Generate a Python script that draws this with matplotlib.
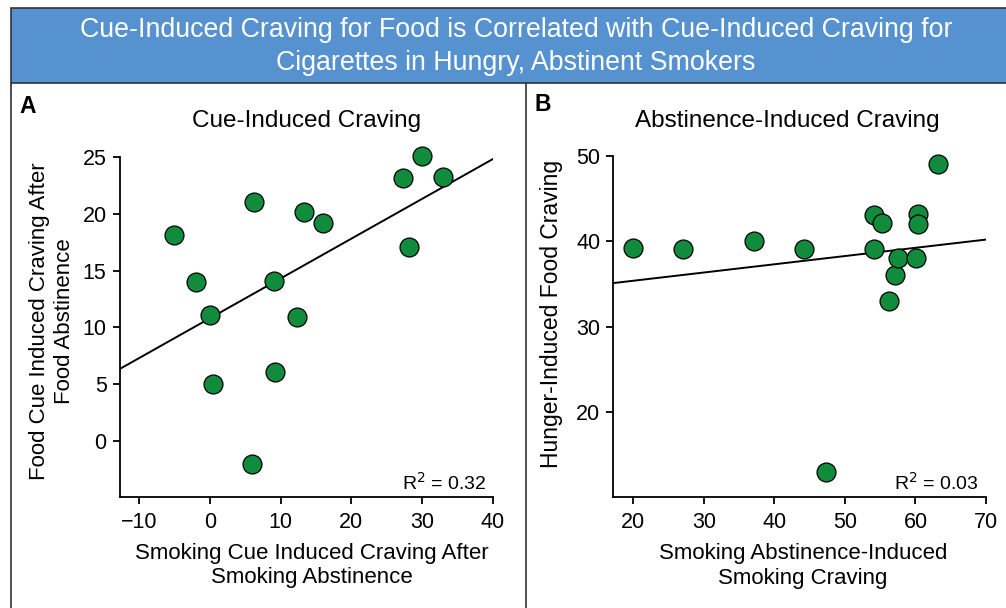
import matplotlib
matplotlib.use("Agg")
import matplotlib.pyplot as plt
from matplotlib.patches import Rectangle
from matplotlib.lines import Line2D

plt.rcParams['font.family'] = ['Liberation Sans', 'DejaVu Sans']

# panel A: cue-induced craving
cue_smoking = [-5, -2, 0, 0.4, 6.2, 6, 9, 9.2, 12.3, 13.3, 16, 27.3, 28.2, 30, 33]
cue_food = [18.1, 14, 11.1, 5, 21, -2, 14.1, 6.1, 10.9, 20.1, 19.2, 23.1, 17.1, 25.1, 23.2]
fit_a = (0.35, 10.8)  # slope, intercept
r2_a = "0.32"

# panel B: abstinence-induced craving
abst_smoking = [20, 27, 37.1, 44.2, 47.3, 54.1, 54.1, 55.2, 56.2, 57.1, 57.5, 60.1, 60.3, 60.3, 63.2]
abst_food = [39.2, 39.1, 40, 39.1, 13, 39.1, 43.05, 42.1, 33, 36.05, 38.1, 38, 43.2, 42, 49.1]
fit_b = (0.0965, 33.45)
r2_b = "0.03"

green = "#118C3D"
W, H = 1006, 608
narrow = ['Liberation Sans Narrow', 'Liberation Sans']

fig = plt.figure(figsize=(W / 100, H / 100), dpi=100)

# header box + panel frame
fig.patches.append(Rectangle((10.5 / W, 1 - 83 / H), (W - 10) / W, 75 / H, transform=fig.transFigure,
                             facecolor="#5592CF", edgecolor="#333333", lw=1.2))
fig.lines.append(Line2D([10.5 / W, 10.5 / W], [0, 1 - 83 / H], transform=fig.transFigure, color="#333333", lw=1.2))
fig.lines.append(Line2D([526 / W, 526 / W], [0, 1 - 83 / H], transform=fig.transFigure, color="#333333", lw=1.2))
fig.text(516 / W, 1 - 37 / H, "Cue-Induced Craving for Food is Correlated with Cue-Induced Craving for",
         ha="center", va="baseline", color="white", fontsize=19.3, family=narrow)
fig.text(516 / W, 1 - 70 / H, "Cigarettes in Hungry, Abstinent Smokers",
         ha="center", va="baseline", color="white", fontsize=19.3, family=narrow)

fig.text(19 / W, 1 - 113 / H, "A", fontsize=16.5, fontweight="bold", va="baseline")
fig.text(534 / W, 1 - 111 / H, "B", fontsize=16.5, fontweight="bold", va="baseline")

ax1 = fig.add_axes([119.5 / W, 1 - 497 / H, 373.5 / W, 340.3 / H])
ax2 = fig.add_axes([613.3 / W, 1 - 497.3 / H, 372.7 / W, 341.3 / H])


def style(ax):
    ax.spines['top'].set_visible(False)
    ax.spines['right'].set_visible(False)
    for s in ['left', 'bottom']:
        ax.spines[s].set_linewidth(1.3)
    ax.tick_params(direction="out", length=4.8, width=1.3, labelsize=15.5)
    ax.tick_params(axis="y", pad=4.5)
    ax.tick_params(axis="x", pad=6)


# A
ax1.scatter(cue_smoking, cue_food, s=185, color=green, edgecolor="black", linewidth=0.9, zorder=3, clip_on=False)
ax1.axline((0, fit_a[1]), slope=fit_a[0], color="black", lw=1.4, zorder=2)
ax1.set_xlim(-12.75, 40)
ax1.set_ylim(-4.9, 25)
ax1.set_xticks([-10, 0, 10, 20, 30, 40])
ax1.set_yticks([0, 5, 10, 15, 20, 25])
style(ax1)
ax1.set_xlabel("Smoking Cue Induced Craving After\nSmoking Abstinence", fontsize=16, linespacing=1.2)
ax1.xaxis.set_label_coords(0.515, -0.135)
ax1.set_ylabel("Food Cue Induced Craving After\nFood Abstinence", fontsize=16, linespacing=1.2)
ax1.yaxis.set_label_coords(-0.12, 0.517)
ax1.text(0.501, 1.088, "Cue-Induced Craving", transform=ax1.transAxes, ha="center", va="baseline", fontsize=17.5)
ax1.text(0.983, 0.022, "R$^2$ = " + r2_a, transform=ax1.transAxes, ha="right", va="baseline", fontsize=14)

# B
ax2.scatter(abst_smoking, abst_food, s=185, color=green, edgecolor="black", linewidth=0.9, zorder=3, clip_on=False)
ax2.axline((0, fit_b[1]), slope=fit_b[0], color="black", lw=1.4, zorder=2)
ax2.set_xlim(17.16, 70)
ax2.set_ylim(10, 50)
ax2.set_xticks([20, 30, 40, 50, 60, 70])
ax2.set_yticks([20, 30, 40, 50])
style(ax2)
ax2.set_xlabel("Smoking Abstinence-Induced\nSmoking Craving", fontsize=16, linespacing=1.2)
ax2.xaxis.set_label_coords(0.509, -0.135)
ax2.set_ylabel("Hunger-Induced Food Craving", fontsize=16.5)
ax2.yaxis.set_label_coords(-0.135, 0.537)
ax2.text(0.468, 1.086, "Abstinence-Induced Craving", transform=ax2.transAxes, ha="center", va="baseline", fontsize=17.5)
ax2.text(0.98, 0.022, "R$^2$ = " + r2_b, transform=ax2.transAxes, ha="right", va="baseline", fontsize=14)

fig.savefig("out.png", dpi=100)
